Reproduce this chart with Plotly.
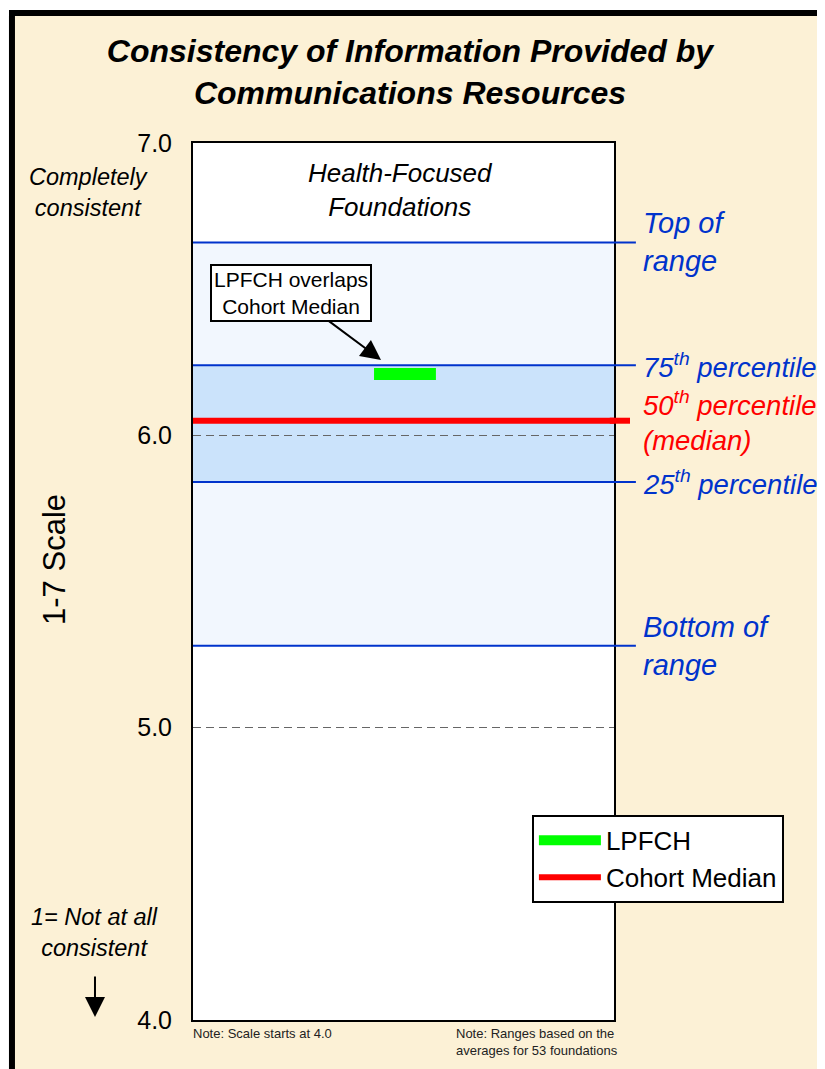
import plotly.graph_objects as go

FONT = "Liberation Sans, Arial, sans-serif"
BLUE = "#0033CC"
RED = "#FF0000"
GREEN = "#00FF00"
CREAM = "#FCF1D6"

# y axis (1-7 scale, shown from 4 to 7)
tick_vals = [4.0, 5.0, 6.0, 7.0]
tick_text = ["4.0", "5.0", "6.0", "7.0"]

# cohort ranges
range_names = ["top", "p75", "median", "p25", "bottom"]
range_values = [6.66, 6.24, 6.05, 5.84, 5.28]
range_labels = [
    "<i>Top of<br>range</i>",
    "<i>75<sup>th</sup> percentile</i>",
    "<i>50<sup>th</sup> percentile<br>(median)</i>",
    "<i>25<sup>th</sup> percentile</i>",
    "<i>Bottom of<br>range</i>",
]
range_colors = [BLUE, BLUE, RED, BLUE, BLUE]

lpfch_value = 6.21
median_value = 6.05
vals = dict(zip(range_names, range_values))

fig = go.Figure()

# LPFCH marker bar
fig.add_trace(go.Scatter(x=[0.43, 0.577], y=[lpfch_value, lpfch_value], mode="lines",
                         line=dict(color=GREEN, width=12), name="LPFCH"))
# cohort median line
fig.add_trace(go.Scatter(x=[0, 1], y=[median_value, median_value], mode="lines",
                         line=dict(color=RED, width=6), name="Cohort Median"))

shapes = []
# slide background with black frame
shapes.append(dict(type="rect", xref="paper", yref="paper", x0=-0.43, x1=1.8, y0=-0.3, y1=1.1482,
                   fillcolor=CREAM, line=dict(color="black", width=6), layer="below"))
# white plot area
shapes.append(dict(type="rect", xref="paper", yref="paper", x0=0, x1=1, y0=0, y1=1,
                   fillcolor="white", line=dict(width=0), layer="below"))
# full range band and interquartile band
shapes.append(dict(type="rect", xref="paper", yref="y", x0=0, x1=1, y0=vals["bottom"], y1=vals["top"],
                   fillcolor="#F2F7FE", line=dict(width=0), layer="below"))
shapes.append(dict(type="rect", xref="paper", yref="y", x0=0, x1=1, y0=vals["p25"], y1=vals["p75"],
                   fillcolor="#CBE3FB", line=dict(width=0), layer="below"))
# range boundary lines, running out past the plot edge
for n in ["top", "p75", "p25", "bottom"]:
    shapes.append(dict(type="line", xref="paper", yref="y", x0=0, x1=1.052, y0=vals[n], y1=vals[n],
                       line=dict(color=BLUE, width=2)))
# tail of the median line
shapes.append(dict(type="line", xref="paper", yref="y", x0=0.99, x1=1.038, y0=median_value, y1=median_value,
                   line=dict(color=RED, width=6)))

annotations = []
for lab, v, c in zip(range_labels, range_values, range_colors):
    size = 27.5 if "percentile" in lab else 29
    annotations.append(dict(x=1.064, y=v, xref="paper", yref="y", text=lab, showarrow=False,
                            xanchor="left", yanchor="middle", align="left",
                            font=dict(family=FONT, size=size, color=c)))

annotations.append(dict(x=0.494, y=0.9464, xref="paper", yref="paper",
                        text="<i>Health-Focused<br>Foundations</i>", showarrow=False,
                        xanchor="center", yanchor="middle",
                        font=dict(family=FONT, size=26, color="black")))
annotations.append(dict(x=-0.249, y=0.943, xref="paper", yref="paper",
                        text="<i>Completely<br>consistent</i>", showarrow=False,
                        xanchor="center", yanchor="middle",
                        font=dict(family=FONT, size=23.5, color="black")))
annotations.append(dict(x=-0.2328, y=0.1003, xref="paper", yref="paper",
                        text="<i>1= Not at all<br>consistent</i>", showarrow=False,
                        xanchor="center", yanchor="middle",
                        font=dict(family=FONT, size=23.5, color="black")))
# down arrow
annotations.append(dict(x=-0.2328, y=0.0034, xref="paper", yref="paper", text="",
                        showarrow=True, ax=0, ay=-42, arrowhead=2, arrowsize=2,
                        arrowwidth=2, arrowcolor="black"))
annotations.append(dict(x=-0.3278, y=0.5257, xref="paper", yref="paper", text="1-7 Scale",
                        textangle=-90, showarrow=False, xanchor="center", yanchor="middle",
                        font=dict(family=FONT, size=31, color="black")))
# callout
annotations.append(dict(x=0.4466, y=6.258, xref="paper", yref="y",
                        text="LPFCH overlaps<br>Cohort Median", showarrow=True,
                        ax=-90, ay=-67, arrowhead=2, arrowsize=2, arrowwidth=2, arrowcolor="black",
                        bgcolor="white", bordercolor="black", borderwidth=2, borderpad=2,
                        font=dict(family=FONT, size=21, color="black")))
# notes
annotations.append(dict(x=-0.005, y=-0.005, xref="paper", yref="paper",
                        text="Note: Scale starts at 4.0", showarrow=False,
                        xanchor="left", yanchor="top", align="left",
                        font=dict(family=FONT, size=13, color="#222222")))
annotations.append(dict(x=0.62, y=-0.005, xref="paper", yref="paper",
                        text="Note: Ranges based on the<br>averages for 53 foundations", showarrow=False,
                        xanchor="left", yanchor="top", align="left",
                        font=dict(family=FONT, size=13, color="#222222")))

# page body adds an 8px margin, so the figure is 8px smaller than the window
fig.update_layout(
    width=817, height=1061,
    margin=dict(l=185, r=211, t=135, b=49),
    paper_bgcolor="white",
    plot_bgcolor="rgba(0,0,0,0)",
    title=dict(text="<b><i>Consistency of Information Provided by<br>Communications Resources</i></b>",
               x=0.492, xanchor="center", y=0.949, yanchor="top",
               font=dict(family=FONT, size=32, color="black")),
    font=dict(family=FONT, color="black"),
    shapes=shapes,
    annotations=annotations,
    legend=dict(x=0.805, y=0.2338, xanchor="left", yanchor="top",
                bgcolor="white", bordercolor="black", borderwidth=2,
                font=dict(family=FONT, size=26, color="black"), itemwidth=62),
)
fig.update_xaxes(range=[0, 1], showgrid=False, zeroline=False, showticklabels=False,
                 showline=True, mirror=True, linecolor="black", linewidth=2)
fig.update_yaxes(range=[4, 7], tickvals=tick_vals, ticktext=tick_text,
                 showgrid=True, gridcolor="#666666", gridwidth=1, griddash="8px,5px",
                 zeroline=False, showline=True, mirror=True, linecolor="black", linewidth=2,
                 ticks="", ticklabelstandoff=14, tickfont=dict(family=FONT, size=25, color="black"))

fig.write_html("out.html")
